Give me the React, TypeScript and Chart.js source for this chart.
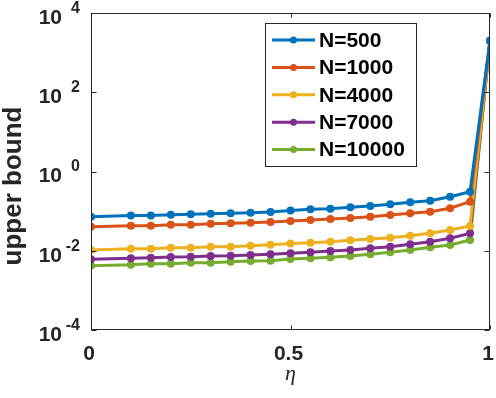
import React, { useEffect, useRef } from "react";
import { Chart, registerables } from "chart.js";

Chart.register(...registerables);

// ---- data ----
const eta = [0, 0.1, 0.15, 0.2, 0.25, 0.3, 0.35, 0.4, 0.45, 0.5, 0.55, 0.6, 0.65, 0.7, 0.75, 0.8, 0.85, 0.9, 0.95, 1];
const n500 = [0.072, 0.077, 0.078, 0.081, 0.083, 0.086, 0.088, 0.091, 0.095, 0.103, 0.111, 0.115, 0.125, 0.135, 0.149, 0.167, 0.183, 0.231, 0.309, 2000];
const n1000 = [0.0405, 0.0429, 0.0429, 0.0454, 0.0454, 0.0482, 0.0493, 0.0511, 0.0532, 0.0564, 0.0597, 0.0632, 0.0671, 0.0722, 0.0798, 0.0881, 0.0966, 0.118, 0.173, 2000];
const n4000 = [0.0104, 0.0113, 0.0113, 0.0119, 0.0119, 0.0126, 0.0126, 0.0134, 0.0142, 0.0152, 0.016, 0.0169, 0.0184, 0.0198, 0.0213, 0.024, 0.0275, 0.0334, 0.0422, 2000];
const n7000 = [0.00608, 0.00644, 0.00668, 0.00697, 0.00708, 0.00738, 0.0075, 0.00782, 0.00813, 0.00861, 0.00914, 0.00986, 0.0104, 0.0115, 0.0126, 0.0146, 0.0169, 0.0206, 0.0275, 2000];
const n10000 = [0.0042, 0.00445, 0.00471, 0.00471, 0.005, 0.005, 0.0053, 0.00551, 0.00561, 0.00619, 0.00644, 0.00684, 0.00738, 0.00813, 0.00914, 0.0104, 0.0122, 0.014, 0.0187, 2000];

const seriesLabels = ["N=500", "N=1000", "N=4000", "N=7000", "N=10000"];
const seriesValues = [n500, n1000, n4000, n7000, n10000];
const seriesColors = ["#0072BD", "#D95319", "#EDB120", "#7E2F8E", "#77AC30"];

const xTicks = [0, 0.5, 1];
const xTickLabels = ["0", "0.5", "1"];
const yTickExponents = [-4, -2, 0, 2, 4];
const xTitle = "\u03B7";
const yTitle = "upper bound";

const AXIS_COLOR = "#262626";
const SANS = '"Liberation Sans", Arial, sans-serif';

const zeroPad = (s: any) => {
  s.paddingLeft = 0;
  s.paddingRight = 0;
  s.paddingTop = 0;
  s.paddingBottom = 0;
};

const decorPlugin = {
  id: "decor",
  afterDatasetsDraw(chart: any) {
    const { ctx, chartArea: a, scales } = chart;
    const xs = scales.x;
    const ys = scales.y;
    ctx.save();
    ctx.strokeStyle = AXIS_COLOR;
    ctx.lineWidth = 1;
    const L = Math.round(a.left) + 0.5;
    const R = Math.round(a.right) - 0.5;
    const T = Math.round(a.top) + 0.5;
    const B = Math.round(a.bottom) - 0.5;
    ctx.strokeRect(L, T, R - L, B - T);
    ctx.beginPath();
    yTickExponents.forEach((e) => {
      const py = Math.round(ys.getPixelForValue(Math.pow(10, e))) + 0.5;
      ctx.moveTo(L, py);
      ctx.lineTo(L + 5, py);
      ctx.moveTo(R, py);
      ctx.lineTo(R - 5, py);
    });
    xTicks.forEach((v) => {
      const px = Math.round(xs.getPixelForValue(v)) + 0.5;
      ctx.moveTo(px, B);
      ctx.lineTo(px, B - 4);
      ctx.moveTo(px, T);
      ctx.lineTo(px, T + 4);
    });
    ctx.stroke();
    // exponents of y tick labels
    ctx.fillStyle = AXIS_COLOR;
    ctx.font = `bold 16px ${SANS}`;
    ctx.textAlign = "right";
    ctx.textBaseline = "middle";
    yTickExponents.forEach((e) => {
      const py = ys.getPixelForValue(Math.pow(10, e));
      ctx.fillText(String(e), 80, py - 4.5);
    });
    // y axis title
    ctx.save();
    ctx.translate(14, 186);
    ctx.rotate(-Math.PI / 2);
    ctx.font = `bold 26px ${SANS}`;
    ctx.textAlign = "center";
    ctx.textBaseline = "middle";
    ctx.fillText(yTitle, 0, 0);
    ctx.restore();
    ctx.restore();
  },
  afterDraw(chart: any) {
    const { ctx } = chart;
    ctx.save();
    // legend box
    const bx = 265.5, by = 23.5, bw = 151, bh = 143;
    ctx.fillStyle = "#ffffff";
    ctx.fillRect(bx, by, bw, bh);
    ctx.strokeStyle = AXIS_COLOR;
    ctx.lineWidth = 1;
    ctx.strokeRect(bx, by, bw, bh);
    chart.data.datasets.forEach((ds: any, i: number) => {
      const cy = 40 + i * 27.4;
      ctx.strokeStyle = ds.borderColor;
      ctx.lineWidth = 3;
      ctx.beginPath();
      ctx.moveTo(272, cy);
      ctx.lineTo(315, cy);
      ctx.stroke();
      ctx.fillStyle = ds.borderColor;
      ctx.beginPath();
      ctx.arc(293.5, cy, 3.5, 0, Math.PI * 2);
      ctx.fill();
      ctx.fillStyle = "#000000";
      ctx.font = `bold 21px ${SANS}`;
      ctx.textAlign = "left";
      ctx.textBaseline = "middle";
      ctx.fillText(ds.label, 319, cy + 1);
    });
    ctx.restore();
  },
};

export default function App() {
  const canvasRef = useRef<HTMLCanvasElement | null>(null);

  useEffect(() => {
    const canvas = canvasRef.current;
    if (!canvas) return;
    const chart = new Chart(canvas, {
      type: "line",
      data: {
        datasets: seriesLabels.map((label, i) => ({
          label,
          data: eta.map((x, j) => ({ x, y: seriesValues[i][j] })),
          borderColor: seriesColors[i],
          backgroundColor: seriesColors[i],
          pointBackgroundColor: seriesColors[i],
          pointBorderWidth: 0,
          pointRadius: 4,
          borderWidth: 3,
          tension: 0,
          fill: false,
        })),
      },
      options: {
        responsive: false,
        animation: false,
        devicePixelRatio: 1,
        layout: { padding: { top: 13, right: 6, left: 0, bottom: 0 } },
        plugins: {
          legend: { display: false },
          tooltip: { enabled: false },
        },
        scales: {
          x: {
            type: "linear",
            min: 0,
            max: 1,
            afterBuildTicks: (s: any) => {
              s.ticks = xTicks.map((v) => ({ value: v }));
            },
            afterFit: (s: any) => {
              s.height = 68;
              zeroPad(s);
            },
            grid: { display: false, drawTicks: false },
            border: { display: false },
            ticks: {
              autoSkip: false,
              maxRotation: 0,
              padding: 12,
              labelOffset: -2,
              color: AXIS_COLOR,
              font: { family: SANS, size: 21, weight: "bold" },
              callback: (v: any) => {
                const idx = xTicks.indexOf(Number(v));
                return idx >= 0 ? xTickLabels[idx] : "";
              },
            },
            title: {
              display: true,
              text: xTitle,
              color: AXIS_COLOR,
              padding: { top: 0, bottom: 11 },
              font: { family: '"Liberation Serif", "Times New Roman", serif', size: 22, style: "italic", weight: "normal" },
            },
          },
          y: {
            type: "logarithmic",
            min: 1e-4,
            max: 1e4,
            afterBuildTicks: (s: any) => {
              s.ticks = yTickExponents.map((e) => ({ value: Math.pow(10, e) }));
            },
            afterFit: (s: any) => {
              s.width = 91;
              zeroPad(s);
            },
            grid: { display: false, drawTicks: false },
            border: { display: false },
            ticks: {
              autoSkip: false,
              padding: 29,
              labelOffset: 5,
              color: AXIS_COLOR,
              font: { family: SANS, size: 21, weight: "bold" },
              callback: () => "10",
            },
            title: { display: false },
          },
        },
      },
      plugins: [decorPlugin],
    } as any);
    return () => chart.destroy();
  }, []);

  return (
    <div style={{ position: "fixed", left: 0, top: 0, width: 496, height: 398, background: "#ffffff" }}>
      <canvas ref={canvasRef} width={496} height={398} style={{ display: "block" }} />
    </div>
  );
}
